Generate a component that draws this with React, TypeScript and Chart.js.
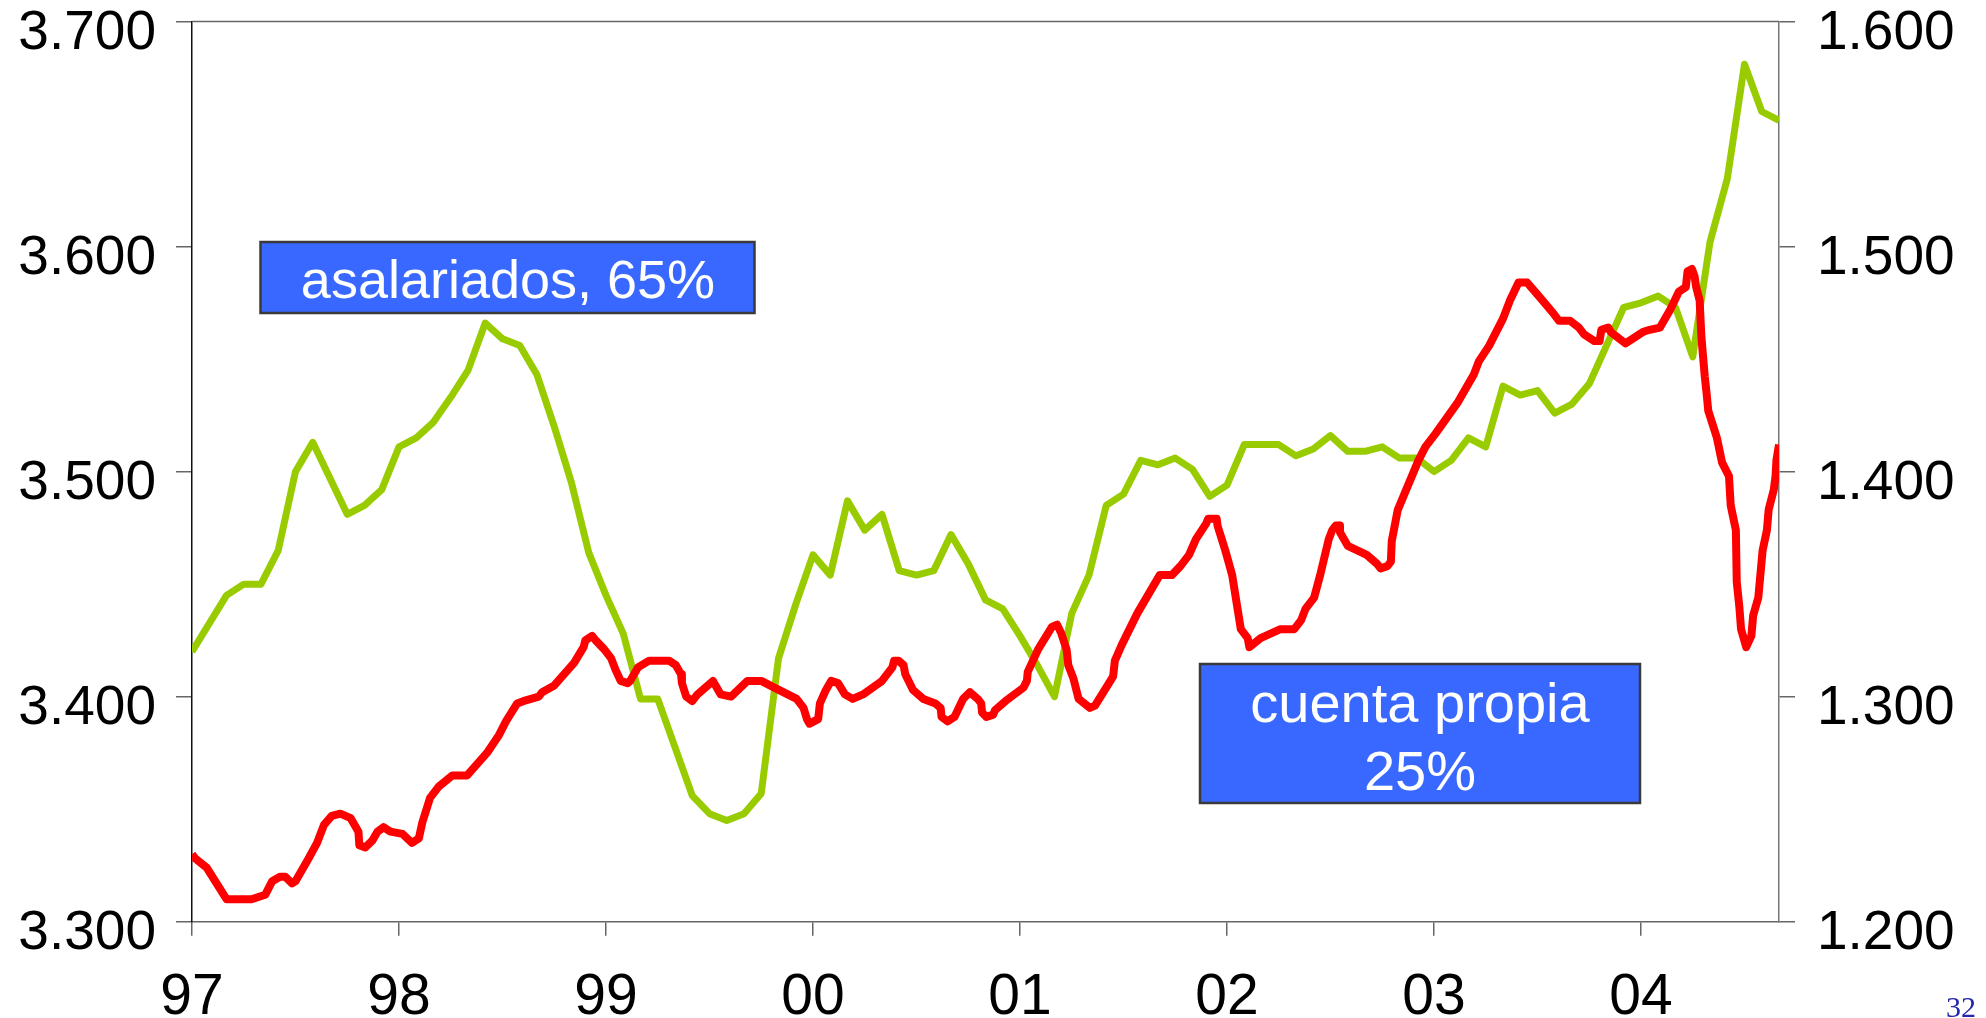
import React, { useEffect, useRef } from 'react';
import { Chart, registerables } from 'chart.js';

Chart.register(...registerables);

// ---- data ----
const yearLabels = ['97', '98', '99', '00', '01', '02', '03', '04'];

// asalariados (left axis, thousands), monthly index from Jan 1997
const greenMonths = [
  0, 2, 3, 4, 5, 6, 7, 9, 10, 11, 12, 13, 14, 15, 16, 17, 18, 19, 20, 21, 22, 23, 24, 25, 26, 27,
  29, 30, 31, 32, 33, 34, 35, 36, 37, 38, 39, 40, 41, 42, 43, 44, 45, 46, 47, 48, 49, 50, 51, 52,
  53, 54, 55, 56, 57, 58, 59, 60, 61, 63, 64, 65, 66, 67, 68, 69, 70, 71, 72, 73, 74, 75, 76, 77,
  78, 79, 80, 81, 83, 84, 85, 86, 87, 88, 89, 90, 91, 92,
];
const greenValues = [
  3420, 3445, 3450, 3450, 3465, 3500, 3513, 3481, 3485, 3492, 3511, 3515, 3522, 3533, 3545, 3566,
  3559, 3556, 3543, 3520, 3495, 3464, 3445, 3428, 3399, 3399, 3356, 3348, 3345, 3348, 3357, 3417,
  3441, 3463, 3454, 3487, 3474, 3481, 3456, 3454, 3456, 3472, 3459, 3443, 3439, 3427, 3414, 3400,
  3437, 3454, 3485, 3490, 3505, 3503, 3506, 3501, 3489, 3494, 3512, 3512, 3507, 3510, 3516, 3509,
  3509, 3511, 3506, 3506, 3500, 3505, 3515, 3511, 3538, 3534, 3536, 3526, 3530, 3539, 3573, 3575,
  3578, 3573, 3551, 3602, 3630, 3681, 3660, 3656,
];

// cuenta propia (right axis, thousands), time in months from Jan 1997
const redMonths = [
  0, 0.2, 0.85, 2.0, 3.45, 4.25, 4.65, 5.1, 5.4, 5.8, 6.0, 6.75, 7.25, 7.65, 8.1, 8.6, 9.2, 9.65, 9.7,
  10.05, 10.45, 10.75, 11.1, 11.5, 12.2, 12.75, 13.15, 13.35, 13.8, 14.3, 15.1, 15.95, 17.1, 17.8,
  18.2, 18.85, 19.2, 20.1, 20.3, 21.0, 22.15, 22.7, 22.8, 23.2, 23.4, 23.9, 24.3, 24.55, 24.85, 25.25,
  25.4, 25.85, 26.5, 27.65, 28.05, 28.35, 28.4, 28.65, 29.0, 29.3, 29.6, 30.2, 30.35, 30.65, 31.25,
  32.2, 33.0, 33.5, 35.05, 35.45, 35.65, 35.8, 36.3, 36.4, 36.75, 37.05, 37.45, 37.85, 38.3, 38.9,
  40.0, 40.6, 40.7, 40.95, 41.25, 41.35, 41.8, 42.4, 43.1, 43.4, 43.45, 43.8, 44.2, 44.7, 45.1, 45.55,
  45.75, 45.8, 46.05, 46.45, 46.55, 47.15, 48.2, 48.4, 48.45, 49.05, 49.85, 50.15, 50.4, 50.7, 50.8,
  51.1, 51.4, 52.05, 52.35, 53.4, 53.5, 53.9, 54.8, 56.1, 56.8, 57.3, 57.8, 58.2, 58.8, 58.9, 59.4,
  59.45, 59.9, 60.3, 60.8, 61.2, 61.3, 61.95, 63.1, 63.9, 64.3, 64.55, 65.05, 65.4, 65.9, 66.1, 66.3,
  66.5, 66.55, 67.0, 68.1, 68.7, 68.9, 69.3, 69.5, 69.55, 69.9, 71.1, 71.5, 72.1, 73.4, 74.3, 74.6,
  75.2, 76.0, 76.4, 76.9, 77.4, 78.3, 78.95, 79.25, 79.9, 80.4, 80.7, 81.3, 81.6, 81.7, 82.1, 82.25,
  83.1, 84.1, 84.5, 85.1, 85.7, 86.2, 86.6, 86.7, 86.95, 87.1, 87.2, 87.4, 87.5, 87.7, 87.8, 87.9,
  88.4, 88.7, 89.1, 89.2, 89.5, 89.55, 89.7, 89.8, 90.1, 90.4, 90.5, 90.8, 91.05, 91.3, 91.4, 91.7,
  91.8, 91.85, 92.0,
];
const redValues = [
  1230, 1228, 1224, 1210, 1210, 1212, 1218, 1220, 1220, 1217, 1218, 1228, 1235, 1243, 1247, 1248,
  1246, 1240, 1234, 1233, 1236, 1240, 1242, 1240, 1239, 1235, 1237, 1244, 1255, 1260, 1265, 1265,
  1275, 1283, 1289, 1297, 1298, 1300, 1302, 1305, 1315, 1322, 1325, 1327, 1325, 1321, 1317, 1312,
  1307, 1306, 1307, 1313, 1316, 1316, 1314, 1310, 1306, 1300, 1298, 1301, 1303, 1307, 1305, 1301,
  1300, 1307, 1307, 1305, 1299, 1295, 1290, 1288, 1290, 1297, 1303, 1307, 1306, 1301, 1299, 1301,
  1307, 1313, 1316, 1316, 1314, 1310, 1303, 1299, 1297, 1295, 1291, 1289, 1291, 1299, 1302, 1299,
  1297, 1293, 1291, 1292, 1294, 1298, 1304, 1307, 1311, 1321, 1331, 1332, 1328, 1321, 1314, 1308,
  1299, 1295, 1296, 1309, 1316, 1323, 1337, 1354, 1354, 1358, 1363, 1370, 1377, 1379, 1379, 1376,
  1365, 1354, 1330, 1326, 1322, 1326, 1330, 1330, 1334, 1339, 1344, 1354, 1370, 1374, 1376, 1376,
  1373, 1367, 1363, 1359, 1357, 1358, 1360, 1369, 1383, 1405, 1411, 1417, 1431, 1443, 1449, 1456,
  1468, 1476, 1484, 1484, 1476, 1470, 1467, 1467, 1464, 1461, 1458, 1458, 1463, 1464, 1462, 1457,
  1462, 1463, 1464, 1472, 1480, 1482, 1489, 1490, 1487, 1482, 1476, 1460, 1442, 1435, 1427, 1415,
  1404, 1398, 1385, 1374, 1351, 1340, 1330, 1322, 1327, 1336, 1344, 1365, 1374, 1383, 1392, 1398,
  1405, 1412,
];

const leftRange = [3300, 3700];
const rightRange = [1200, 1600];
const boxLabel1 = 'asalariados, 65%';
const boxLabel2 = ['cuenta propia', '25%'];
const pageNumber = '32';

const FONT = '"Liberation Sans", Arial, Helvetica, sans-serif';
const fmt = (v: number) => (v / 1000).toFixed(3);

const decorPlugin = {
  id: 'decor',
  afterDraw(chart: any) {
    const ctx = chart.ctx as CanvasRenderingContext2D;
    const { left, right, top } = chart.chartArea;
    const yl = chart.scales.y;
    const yr = chart.scales.y1;
    const xs = chart.scales.x;
    ctx.save();
    // top frame line
    ctx.strokeStyle = '#666';
    ctx.lineWidth = 1.5;
    ctx.beginPath();
    ctx.moveTo(left, top);
    ctx.lineTo(right, top);
    ctx.stroke();

    // tick labels
    ctx.fillStyle = '#000';
    ctx.textBaseline = 'alphabetic';
    ctx.font = `55px ${FONT}`;
    ctx.textAlign = 'right';
    yl.ticks.forEach((t: any) => ctx.fillText(fmt(t.value), left - 36, yl.getPixelForValue(t.value) + 27));
    ctx.textAlign = 'left';
    yr.ticks.forEach((t: any) => ctx.fillText(fmt(t.value), right + 38, yr.getPixelForValue(t.value) + 27));
    ctx.textAlign = 'center';
    ctx.font = `57px ${FONT}`;
    xs.ticks.forEach((t: any) => {
      const lbl = yearLabels[Math.round(t.value / 12)];
      if (lbl) ctx.fillText(lbl, xs.getPixelForValue(t.value), 1014);
    });

    // annotation boxes
    const drawBox = (x: number, y: number, w: number, h: number) => {
      ctx.fillStyle = '#3868FF';
      ctx.fillRect(x, y, w, h);
      ctx.strokeStyle = '#3a3a3a';
      ctx.lineWidth = 2.5;
      ctx.strokeRect(x, y, w, h);
    };
    drawBox(260.5, 242, 494, 71);
    ctx.fillStyle = '#fff';
    ctx.textAlign = 'center';
    ctx.font = `54px ${FONT}`;
    ctx.fillText(boxLabel1, 508, 298);

    drawBox(1200, 664, 440, 139);
    ctx.fillStyle = '#fff';
    ctx.font = `56px ${FONT}`;
    ctx.fillText(boxLabel2[0], 1420, 722);
    ctx.fillText(boxLabel2[1], 1420, 790);

    // page number
    ctx.fillStyle = '#2626A8';
    ctx.textAlign = 'left';
    ctx.font = `30px "Liberation Serif", "Times New Roman", serif`;
    ctx.fillText(pageNumber, 1946, 1017);
    ctx.restore();
  },
};

export default function App() {
  const ref = useRef<HTMLCanvasElement | null>(null);

  useEffect(() => {
    if (!ref.current) return;
    const green = greenMonths.map((m, i) => ({ x: m, y: greenValues[i] }));
    const red = redMonths.map((m, i) => ({ x: m, y: redValues[i] }));
    const chart = new Chart(ref.current, {
      type: 'line',
      data: {
        datasets: [
          {
            label: 'cuenta propia',
            data: red,
            yAxisID: 'y1',
            borderColor: '#FF0000',
            borderWidth: 8,
            pointRadius: 0,
            tension: 0,
            borderJoinStyle: 'round',
            borderCapStyle: 'butt',
            order: 0,
          },
          {
            label: 'asalariados',
            data: green,
            yAxisID: 'y',
            borderColor: '#99CC00',
            borderWidth: 7,
            pointRadius: 0,
            tension: 0,
            borderJoinStyle: 'round',
            borderCapStyle: 'butt',
            order: 1,
          },
        ],
      },
      options: {
        responsive: false,
        animation: false,
        events: [],
        layout: { padding: { top: 21.5, left: 0, right: 0, bottom: 0 } },
        plugins: { legend: { display: false }, tooltip: { enabled: false } },
        scales: {
          x: {
            type: 'linear',
            min: 0,
            max: 92,
            ticks: { display: false, stepSize: 12, includeBounds: false, autoSkip: false },
            grid: { drawOnChartArea: false, drawTicks: true, tickLength: 14, color: '#666', lineWidth: 1.5 },
            border: { display: true, color: '#666', width: 1.5 },
            afterFit: (s: any) => {
              s.height = 1018 - 921.7;
              s.paddingLeft = 0;
              s.paddingRight = 0;
            },
          },
          y: {
            position: 'left',
            min: leftRange[0],
            max: leftRange[1],
            ticks: { display: false, stepSize: 100, includeBounds: false },
            grid: { drawOnChartArea: false, drawTicks: true, tickLength: 16, color: '#666', lineWidth: 1.5 },
            border: { display: true, color: '#111', width: 1.5 },
            afterFit: (s: any) => {
              s.width = 192;
              s.paddingTop = 0;
              s.paddingBottom = 0;
            },
          },
          y1: {
            position: 'right',
            min: rightRange[0],
            max: rightRange[1],
            ticks: { display: false, stepSize: 100, includeBounds: false },
            grid: { drawOnChartArea: false, drawTicks: true, tickLength: 16, color: '#666', lineWidth: 1.5 },
            border: { display: true, color: '#777', width: 1.5 },
            afterFit: (s: any) => {
              s.width = 1986 - 1779;
              s.paddingTop = 0;
              s.paddingBottom = 0;
            },
          },
        },
      },
      plugins: [decorPlugin],
    } as any);
    return () => chart.destroy();
  }, []);

  return (
    <div style={{ position: 'absolute', left: 0, top: 0, width: 1986, height: 1018, background: '#fff', overflow: 'hidden' }}>
      <canvas ref={ref} width={1986} height={1018} style={{ display: 'block', width: 1986, height: 1018 }} />
    </div>
  );
}
